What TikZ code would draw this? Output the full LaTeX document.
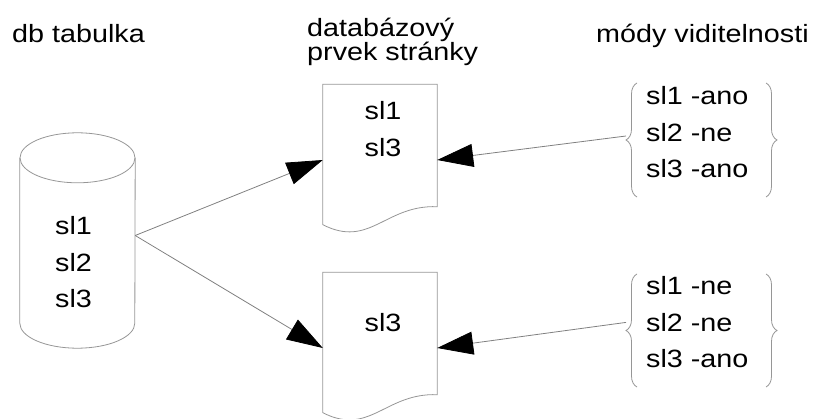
\documentclass[tikz,border=0pt]{standalone}
\usepackage{fontspec}
\setmainfont[FakeStretch=1.15]{Liberation Sans}
\usetikzlibrary{arrows.meta,decorations.pathreplacing}
\definecolor{linegray}{RGB}{128,128,128}
\definecolor{shapegray}{RGB}{150,150,150}
\newcommand{\drawpage}[1]{%
\draw[outline] (#1.north west) -- (#1.north east) -- ([yshift=29pt]#1.south east)
  .. controls ([xshift=-52pt,yshift=31pt]#1.south east) and ([xshift=47pt,yshift=-13pt]#1.south west) .. ([yshift=11pt]#1.south west) -- cycle;}

\begin{document}
\begin{tikzpicture}[x=1pt,y=-1pt,
  outline/.style={draw=shapegray,line width=0.8pt},
  shapebox/.style={minimum width=114pt,minimum height=151pt,inner sep=0pt},
  rows/.style={font=\fontsize{25}{36.5}\selectfont,align=left,inner sep=0pt},
  title/.style={font=\fontsize{25}{24}\selectfont,align=left,inner sep=0pt},
  arr/.style={draw=linegray,line width=0.8pt,-{Triangle[length=36pt,width=23pt,color=black,fill=black]}},
  bracket/.style={draw=shapegray,line width=0.8pt,decorate,decoration={brace,amplitude=11pt}}]
\useasboundingbox (0,0) rectangle (814,419);

% titles
\node[title,anchor=base west] (dbtitle) at (12,43) {db tabulka};
\node[title,anchor=west] (pagetitle) at (307,41.5) {databázový\\prvek stránky};
\node[title,anchor=base west] (modetitle) at (596,43) {módy viditelnosti};

% db tabulka
\node[minimum width=115pt,minimum height=215pt,inner sep=0pt] (db) at (77.5,240.5) {};
\draw[outline] ([yshift=-25pt]db.north west) -- ([yshift=25pt]db.south west)
  arc[start angle=180,end angle=360,x radius=57.5pt,y radius=25pt] -- ([yshift=-25pt]db.north east);
\draw[outline] ([yshift=-25pt]db.north) ellipse [x radius=57.5pt,y radius=25pt];
\node[rows,anchor=west] (dbrows) at (55,262.4) {sl1\\sl2\\sl3};

% prvky stranky
\node[shapebox] (page1) at (380,160) {};
\drawpage{page1}
\node[rows,align=center] (page1rows) at (383,129) {sl1\\sl3};

\node[shapebox] (page2) at (380,348) {};
\drawpage{page2}
\node[rows,align=center] (page2rows) at (383,323) {sl3};

% mody
\node[rows,anchor=west] (mode1) at (646,132.4) {sl1 -ano\\sl2 -ne\\sl3 -ano};
\draw[bracket] (637,197) -- (637,83);
\draw[bracket] (766,83) -- (766,197);

\node[rows,anchor=west] (mode2) at (646,322.4) {sl1 -ne\\sl2 -ne\\sl3 -ano};
\draw[bracket] (637,387) -- (637,274);
\draw[bracket] (766,274) -- (766,387);

% sipky
\draw[arr] ([yshift=5pt]db.east) -- (page1.west);
\draw[arr] ([yshift=5pt]db.east) -- (page2.west);
\draw[arr] ([xshift=-20pt,yshift=-3.6pt]mode1.west) -- (page1.east);
\draw[arr] ([xshift=-20pt]mode2.west) -- (page2.east);
\end{tikzpicture}
\end{document}
